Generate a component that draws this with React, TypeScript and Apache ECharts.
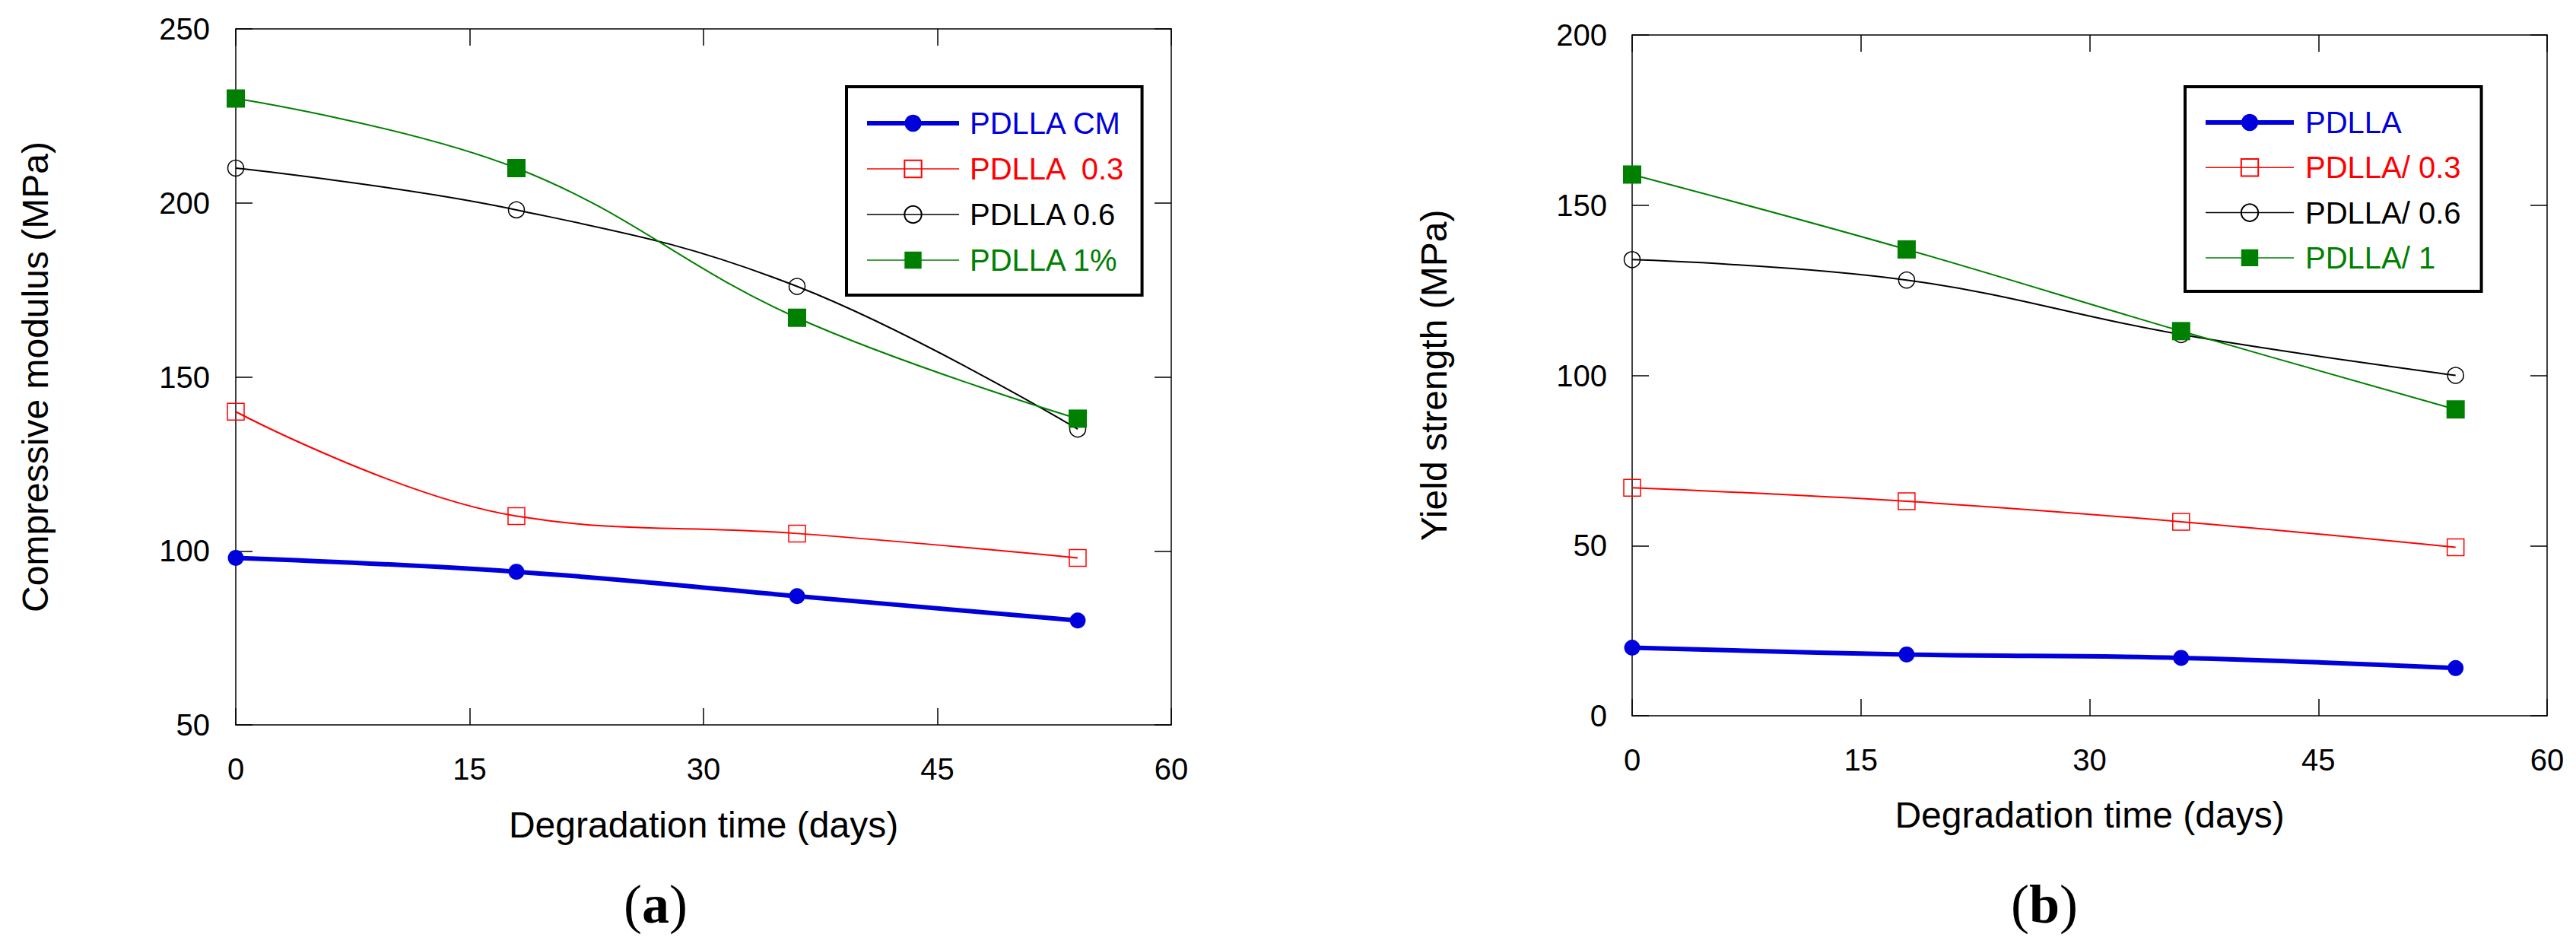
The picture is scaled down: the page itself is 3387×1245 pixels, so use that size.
import React, { useEffect, useRef } from "react";
import * as echarts from "echarts";

// ---------- data ----------
const days = [0, 18, 36, 54];
const xTicks = [0, 15, 30, 45, 60];

// (a) Compressive modulus (MPa)
const aNames = ["PDLLA CM", "PDLLA  0.3", "PDLLA 0.6", "PDLLA 1%"];
const aCM = [98, 94, 87, 80];
const a03 = [140, 110, 105, 98];
const a06 = [210, 198, 176, 135];
const a1 = [230, 210, 167, 138];

// (b) Yield strength (MPa)
const bNames = ["PDLLA", "PDLLA/ 0.3", "PDLLA/ 0.6", "PDLLA/ 1"];
const bP = [20, 18, 17, 14];
const b03 = [67, 63, 57, 49.5];
const b06 = [134, 128, 112, 100];
const b1 = [159, 137, 113, 90];

const BLUE = "#0000dd";
const RED = "#ff0000";
const BLACK = "#000000";
const GREEN = "#008000";
const FONT = "'Liberation Sans', Arial, sans-serif";
const SERIF = "'Liberation Serif', 'Times New Roman', serif";

const styles = [
  { color: BLUE, symbol: "circle", size: 21, fill: BLUE, width: 6, lw: 6 },
  { color: RED, symbol: "rect", size: 22, fill: "rgba(0,0,0,0)", width: 2, lw: 1.5 },
  { color: BLACK, symbol: "circle", size: 21, fill: "rgba(0,0,0,0)", width: 2, lw: 1.5 },
  { color: GREEN, symbol: "rect", size: 24, fill: GREEN, width: 2, lw: 1.5 },
];

function makeSeries(name: string, vals: number[], idx: number, axis: number) {
  const s = styles[idx];
  return {
    type: "line",
    name,
    xAxisIndex: axis,
    yAxisIndex: axis,
    data: days.map((d, i) => [d, vals[i]]),
    smooth: 0.4,
    symbol: s.symbol,
    symbolSize: s.size,
    showAllSymbol: true,
    lineStyle: { color: s.color, width: s.width },
    itemStyle: {
      color: s.fill,
      borderColor: s.color,
      borderWidth: s.fill === s.color ? 0 : 1.5,
    },
    emphasis: { disabled: true },
    z: idx === 0 ? 3 : 2,
  };
}

function axisPair(
  gridIndex: number,
  min: number,
  max: number,
  interval: number,
  isX: boolean,
  name: string,
  nameGap: number,
  labelMargin: number
) {
  const common = {
    type: "value",
    gridIndex,
    min,
    max,
    interval,
    splitLine: { show: false },
    axisLine: { show: true, onZero: false, lineStyle: { color: "#000", width: 1.5 } },
    axisTick: { show: true, inside: true, length: 22, lineStyle: { color: "#000", width: 1.5 } },
  };
  return [
    {
      ...common,
      position: isX ? "bottom" : "left",
      name,
      nameLocation: "middle",
      nameGap,
      nameTextStyle: { fontFamily: FONT, fontSize: 48, color: "#000" },
      axisLabel: {
        show: true,
        margin: labelMargin,
        fontFamily: FONT,
        fontSize: 40,
        color: "#000",
      },
    },
    {
      ...common,
      position: isX ? "top" : "right",
      axisLabel: { show: false },
    },
  ];
}

function legendFor(
  names: string[],
  left: number,
  top: number,
  itemWidth: number,
  itemGap: number,
  padding: number[],
  textPad: number
) {
  return {
    show: true,
    orient: "vertical",
    left,
    top,
    itemWidth,
    itemHeight: 28,
    itemGap,
    padding,
    borderColor: "#000",
    borderWidth: 4,
    backgroundColor: "#fff",
    selectedMode: false,
    data: names.map((n, i) => ({
      name: n,
      lineStyle: { width: styles[i].lw },
      textStyle: {
        color: styles[i].color,
        fontFamily: FONT,
        fontSize: 40,
        lineHeight: 28,
        padding: [0, 0, 0, textPad],
      },
    })),
  };
}

export default function App() {
  const ref = useRef<HTMLDivElement>(null);

  useEffect(() => {
    document.body.style.margin = "0";
    if (!ref.current) return;
    const chart = echarts.init(ref.current, undefined, { renderer: "svg" });

    const [xa0, xa1] = axisPair(0, 0, 60, 15, true, "Degradation time (days)", 107, 38);
    const [xb0, xb1] = axisPair(1, 0, 60, 15, true, "Degradation time (days)", 106, 38);
    const [ya0, ya1] = axisPair(0, 50, 250, 50, false, "Compressive modulus (MPa)", 240, 34);
    const [yb0, yb1] = axisPair(1, 0, 200, 50, false, "Yield strength (MPa)", 237, 33);

    const option = {
      animation: false,
      backgroundColor: "#fff",
      textStyle: { fontFamily: FONT },
      grid: [
        { left: 310, top: 38, width: 1230, height: 915, containLabel: false },
        { left: 2146, top: 46, width: 1203, height: 895, containLabel: false },
      ],
      xAxis: [xa0, xa1, xb0, xb1],
      yAxis: [ya0, ya1, yb0, yb1],
      legend: [
        legendFor(aNames, 1113, 114, 121, 20, [28, 22, 26, 24], 9),
        legendFor(bNames, 2873, 114, 116, 19.3, [27, 27, 24, 24], 10),
      ],
      series: [
        makeSeries(aNames[0], aCM, 0, 0),
        makeSeries(aNames[1], a03, 1, 0),
        makeSeries(aNames[2], a06, 2, 0),
        makeSeries(aNames[3], a1, 3, 0),
        makeSeries(bNames[0], bP, 0, 2),
        makeSeries(bNames[1], b03, 1, 2),
        makeSeries(bNames[2], b06, 2, 2),
        makeSeries(bNames[3], b1, 3, 2),
      ].map((s, i) => ({
        ...s,
        xAxisIndex: i < 4 ? 0 : 2,
        yAxisIndex: i < 4 ? 0 : 2,
      })),
      graphic: [
        {
          type: "text",
          x: 862,
          y: 1189,
          style: {
            text: "{p|(}{b|a}{p|)}",
            align: "center",
            verticalAlign: "middle",
            rich: {
              p: { fontFamily: SERIF, fontSize: 72, color: "#000" },
              b: { fontFamily: SERIF, fontSize: 72, fontWeight: "bold", color: "#000" },
            },
          },
        },
        {
          type: "text",
          x: 2688,
          y: 1189,
          style: {
            text: "{p|(}{b|b}{p|)}",
            align: "center",
            verticalAlign: "middle",
            rich: {
              p: { fontFamily: SERIF, fontSize: 72, color: "#000" },
              b: { fontFamily: SERIF, fontSize: 72, fontWeight: "bold", color: "#000" },
            },
          },
        },
      ],
    };

    chart.setOption(option as any);
    return () => {
      chart.dispose();
    };
  }, []);

  return <div ref={ref} style={{ width: 3387, height: 1245, background: "#fff" }} />;
}
